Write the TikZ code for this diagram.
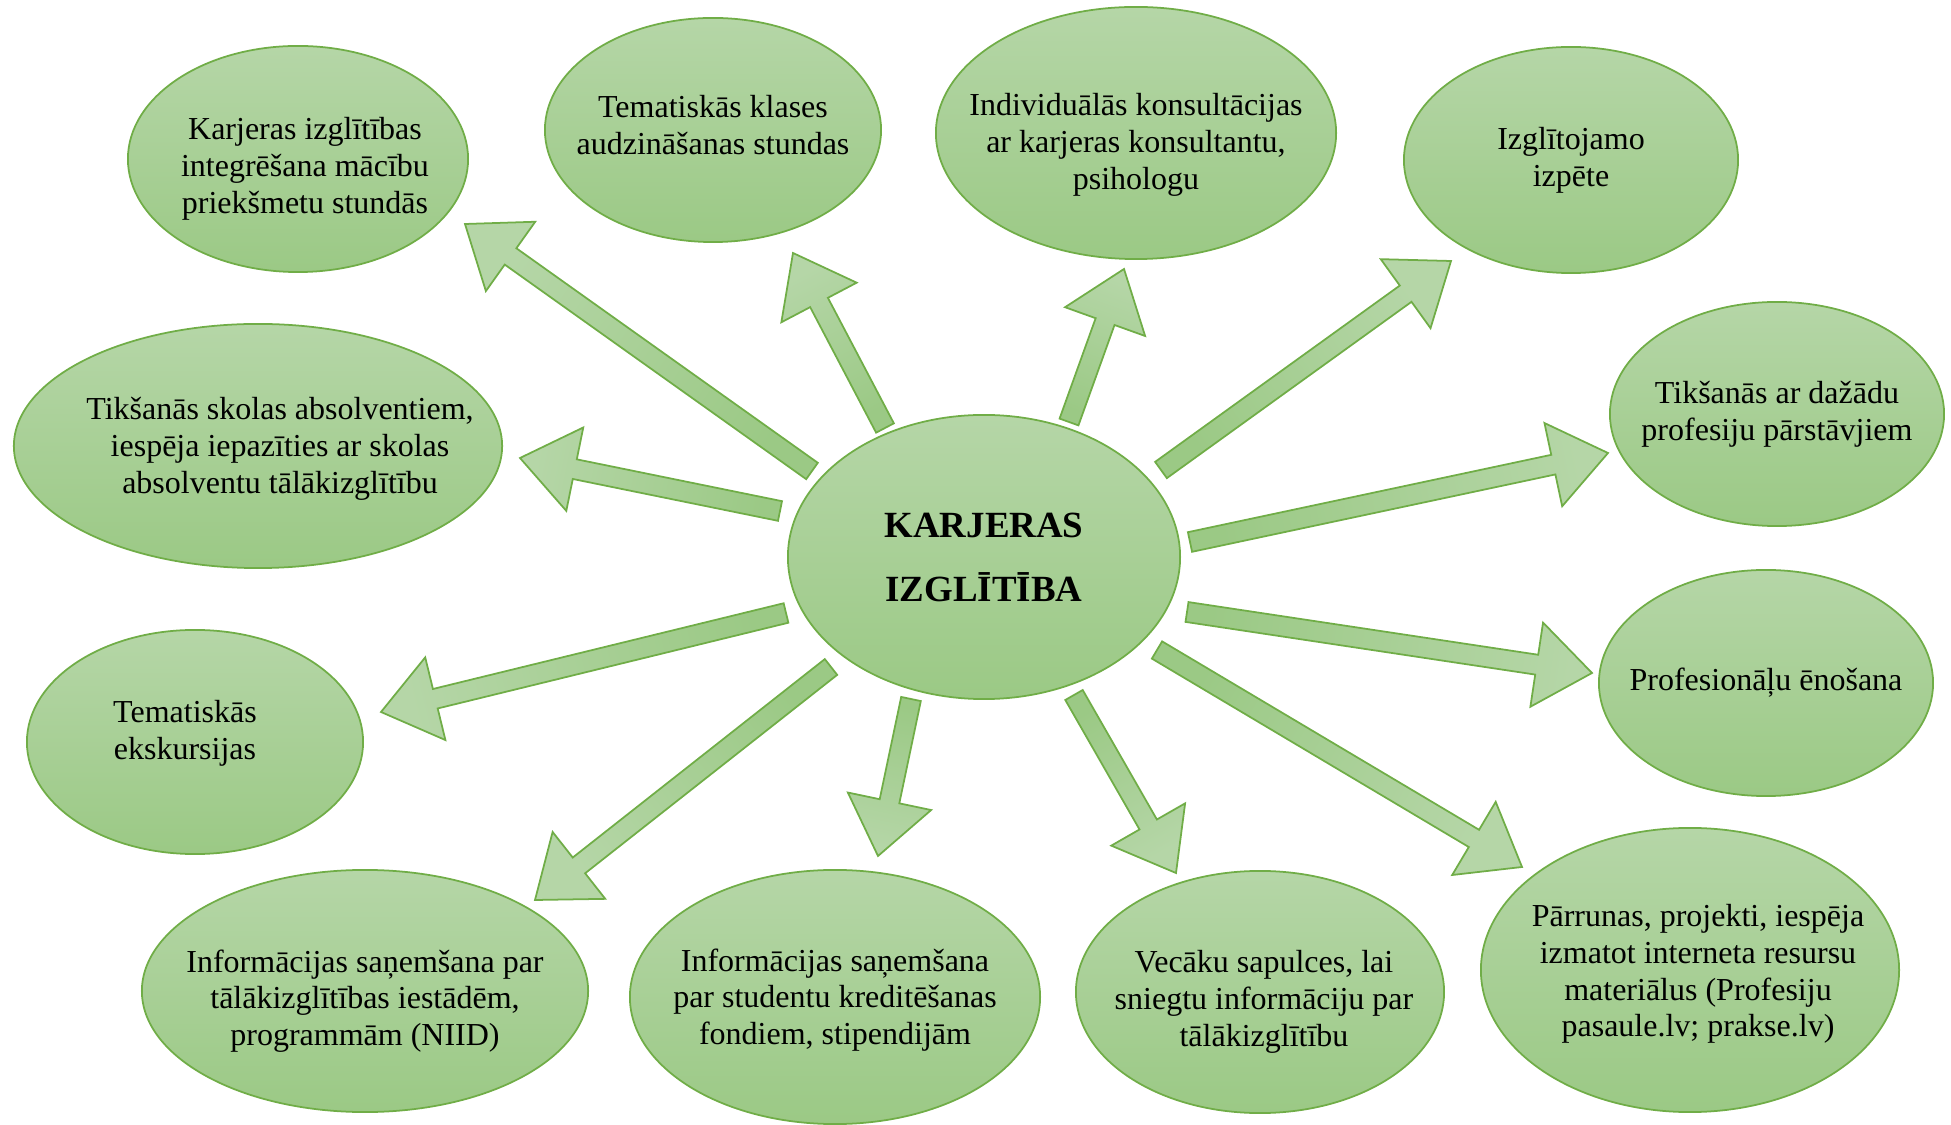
\documentclass[tikz,border=0pt]{standalone}
\usepackage{fontspec}
\setmainfont{Liberation Serif}
\usepackage{tikz}
\usetikzlibrary{shapes.geometric,calc}

\definecolor{leaflight}{HTML}{B5D6A7}
\definecolor{leafdark}{HTML}{9BC985}
\definecolor{leafline}{HTML}{70AD47}

\begin{document}
\begin{tikzpicture}[x=0.01cm, y=-0.01cm,
        bubble/.style = {ellipse, draw=leafline, line width=0.5pt, top color=leaflight, bottom color=leafdark, inner sep=0pt},
        say/.style = {align=center, inner sep=0pt, font=\fontsize{9.1}{10.45}\selectfont},
        core/.style = {align=center, inner sep=0pt, font=\fontsize{10.5}{18.2}\selectfont\bfseries},
        blockarrow/.style = {draw=leafline, line width=0.5pt, top color=leaflight, bottom color=leafdark}
        ]
        \useasboundingbox (0,0) rectangle (1951,1125);

        % middle
        \node[bubble, minimum width=3.92cm, minimum height=2.84cm, label={[core]center:{KARJERAS\\IZGLĪTĪBA}}] (k) at (984,557) {};

        % around it
        \node[bubble, minimum width=3.40cm, minimum height=2.26cm,
              label={[say, shift={(7,10)}]center:{Karjeras izglītības\\integrēšana mācību\\priekšmetu stundās}}] (e1) at (298,159) {};
        \node[bubble, minimum width=3.36cm, minimum height=2.24cm,
              label={[say, shift={(0,-5)}]center:{Tematiskās klases\\audzināšanas stundas}}] (e2) at (713,130) {};
        \node[bubble, minimum width=4.00cm, minimum height=2.52cm,
              label={[say, shift={(0,12)}]center:{Individuālās konsultācijas\\ar karjeras konsultantu,\\psihologu}}] (e3) at (1136,133) {};
        \node[bubble, minimum width=3.34cm, minimum height=2.26cm,
              label={[say]center:{Izglītojamo\\izpēte}}] (e4) at (1571,160) {};
        \node[bubble, minimum width=3.34cm, minimum height=2.24cm,
              label={[say]center:{Tikšanās ar dažādu\\profesiju pārstāvjiem}}] (e5) at (1777,414) {};
        \node[bubble, minimum width=3.34cm, minimum height=2.26cm,
              label={[say]center:{Profesionāļu ēnošana}}] (e6) at (1766,683) {};
        \node[bubble, minimum width=4.18cm, minimum height=2.84cm,
              label={[say, shift={(8,4)}]center:{Pārrunas, projekti, iespēja\\izmatot interneta resursu\\materiālus (Profesiju\\pasaule.lv; prakse.lv)}}] (e7) at (1690,970) {};
        \node[bubble, minimum width=3.68cm, minimum height=2.42cm,
              label={[say, shift={(4,10)}]center:{Vecāku sapulces, lai\\sniegtu informāciju par\\tālākizglītību}}] (e8) at (1260,992) {};
        \node[bubble, minimum width=4.10cm, minimum height=2.54cm,
              label={[say, shift={(0,3)}]center:{Informācijas saņemšana\\par studentu kreditēšanas\\fondiem, stipendijām}}] (e9) at (835,997) {};
        \node[bubble, minimum width=4.46cm, minimum height=2.42cm,
              label={[say, shift={(0,10)}]center:{Informācijas saņemšana par\\tālākizglītības iestādēm,\\programmām (NIID)}}] (e10) at (365,991) {};
        \node[bubble, minimum width=3.36cm, minimum height=2.24cm,
              label={[say, shift={(-10,-9)}]center:{Tematiskās\\ekskursijas}}] (e11) at (195,742) {};
        \node[bubble, minimum width=4.88cm, minimum height=2.44cm,
              label={[say, shift={(22,3)}]center:{Tikšanās skolas absolventiem,\\iespēja iepazīties ar skolas\\absolventu tālākizglītību}}] (e12) at (258,446) {};

        % arrow ends (t = tail, h = head)
        \coordinate (t1) at (812,471);   \coordinate (h1) at (465,224);
        \coordinate (t2) at (885,428);   \coordinate (h2) at (793,253);
        \coordinate (t3) at (1069,422);  \coordinate (h3) at (1124,269);
        \coordinate (t4) at (1161,470);  \coordinate (h4) at (1451,261);
        \coordinate (t5) at (1190,542);  \coordinate (h5) at (1608,453);
        \coordinate (t6) at (1187,612);  \coordinate (h6) at (1592,673);
        \coordinate (t7) at (1157,650);  \coordinate (h7) at (1522,867);
        \coordinate (t8) at (1074,695);  \coordinate (h8) at (1176,873);
        \coordinate (t9) at (911,699);   \coordinate (h9) at (878,856);
        \coordinate (t10) at (831,667);  \coordinate (h10) at (535,900);
        \coordinate (t11) at (786,613);  \coordinate (h11) at (381,712);
        \coordinate (t12) at (780,511);  \coordinate (h12) at (520,458);

        \foreach \i in {1,...,12}{
            \path let \p1 = ($(h\i)-(t\i)$) in \pgfextra{\pgfmathparse{atan2(\y1,\x1)-90}\xdef\arrang{\pgfmathresult}};
            \coordinate (hb) at ($(h\i)!15.9pt!(t\i)$);
            \shade[blockarrow, shading angle=\arrang]
                ($(t\i)!2.85pt!90:(h\i)$) -- ($(hb)!2.85pt!90:(h\i)$) -- ($(hb)!12.1pt!90:(h\i)$) -- (h\i)
                -- ($(hb)!12.1pt!-90:(h\i)$) -- ($(hb)!2.85pt!-90:(h\i)$) -- ($(t\i)!2.85pt!-90:(h\i)$) -- cycle;
        }
    \end{tikzpicture}
\end{document}
